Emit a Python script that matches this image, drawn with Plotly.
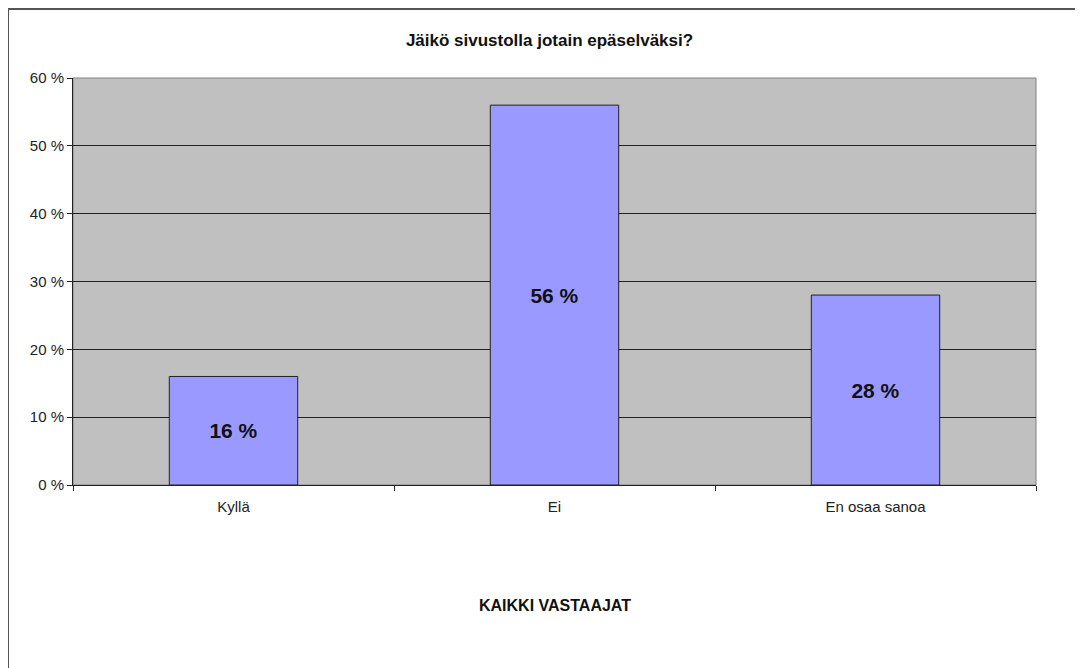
import plotly.graph_objects as go

# ── Data ──
categories = ["Kyllä", "Ei", "En osaa sanoa"]
shares = [16, 56, 28]
labels = ["<b>16 %</b>", "<b>56 %</b>", "<b>28 %</b>"]
y_ticks = [0, 10, 20, 30, 40, 50, 60]
y_tick_text = ["0 %", "10 %", "20 %", "30 %", "40 %", "50 %", "60 %"]

BAR_BLUE = "#9999FF"
PLOT_GRAY = "#C0C0C0"
FONT = "Liberation Sans, Arial, sans-serif"

# page has an 8px body margin, so figure origin sits at (8, 8)
L, T, R, B = 65, 70, 55, 191
PW, PH = 1083 - L - R, 668 - T - B

fig = go.Figure(
    go.Bar(
        x=categories,
        y=shares,
        text=labels,
        textposition="inside",
        insidetextanchor="middle",
        textfont=dict(family=FONT, size=21, color="#111111"),
        marker=dict(color=BAR_BLUE, line=dict(color="#222222", width=1)),
        width=0.4,
    )
)

fig.update_layout(
    width=1083,
    height=668,
    margin=dict(l=L, r=R, t=T, b=B),
    paper_bgcolor="white",
    plot_bgcolor=PLOT_GRAY,
    showlegend=False,
    font=dict(family=FONT, size=15, color="#111111"),
    title=dict(
        text="<b>Jäikö sivustolla jotain epäselväksi?</b>",
        x=0.5, xanchor="center", y=1 - 32 / 668, yanchor="middle",
        font=dict(family=FONT, size=17, color="#111111"),
    ),
    uniformtext=dict(minsize=10, mode="show"),
)

fig.update_yaxes(
    range=[0, 60],
    tickvals=y_ticks,
    ticktext=y_tick_text,
    showgrid=True,
    gridcolor="#222222",
    gridwidth=1,
    zeroline=False,
    showline=True,
    linecolor="#222222",
    ticks="outside",
    ticklen=5,
    tickcolor="#222222",
    tickfont=dict(family=FONT, size=15, color="#222222"),
)

fig.update_xaxes(
    showline=True,
    linecolor="#222222",
    ticks="outside",
    tickson="boundaries",
    ticklen=5,
    tickcolor="#222222",
    ticklabelstandoff=8,
    tickfont=dict(family=FONT, size=15, color="#222222"),
    showgrid=False,
)

# gray edge of plot area
fig.add_shape(type="rect", xref="paper", yref="paper", x0=0, x1=1, y0=0, y1=1,
              line=dict(color="#808080", width=1), layer="below")

# outer chart frame
fig.add_shape(type="rect", xref="paper", yref="paper",
              x0=-L / PW, x1=1.1, y0=-0.6, y1=1 + (T - 1) / PH,
              line=dict(color="#555555", width=2))

fig.add_annotation(
    text="<b>KAIKKI VASTAAJAT</b>", xref="paper", yref="paper",
    x=0.5, y=-(605 - 485) / PH, xanchor="center", yanchor="middle",
    showarrow=False, font=dict(family=FONT, size=16, color="#111111"),
)

fig.write_html("out.html")
